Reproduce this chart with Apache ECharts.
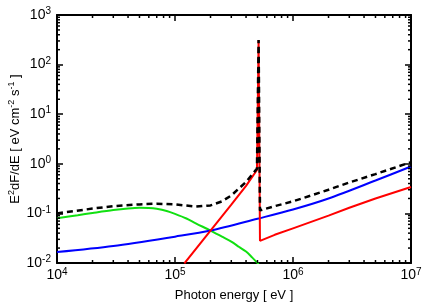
<!DOCTYPE html>
<html><head><meta charset="utf-8">
<script src="https://cdn.jsdelivr.net/npm/echarts@6/dist/echarts.min.js"></script>
<style>html,body{margin:0;padding:0;background:#fff}#c{width:436px;height:305px}</style>
</head><body><div id="c"></div>
<script>
// Photon energy [eV] and E^2 dF/dE values
const greenE = [1e4, 1.5e4, 2e4, 3e4, 4e4, 5e4, 6e4, 7e4, 8.5e4, 1e5, 1.25e5, 1.5e5, 2e5, 2.5e5, 3e5, 3.5e5, 4e5, 4.5e5, 5.11e5];
const greenF = [0.08, 0.092, 0.102, 0.117, 0.126, 0.13, 0.129, 0.124, 0.112, 0.098, 0.079, 0.063, 0.045, 0.034, 0.027, 0.021, 0.017, 0.013, 0.0095];

const blueE = [1e4, 3e4, 1e5, 2e5, 5e5, 1e6, 2e6, 5e6, 1e7];
const blueF = [0.0166, 0.022, 0.034, 0.045, 0.078, 0.12, 0.2, 0.46, 0.88];

const redE = [1.2e5, 2e5, 3e5, 4e5, 4.95e5, 5.11e5, 5.25e5, 7e5, 1e6, 2e6, 3e6, 5e6, 1e7];
const redF = [0.0098, 0.045, 0.15, 0.36, 0.75, 313, 0.028, 0.037, 0.05, 0.09, 0.13, 0.2, 0.34];

const totalE = [1e4, 2e4, 3e4, 5e4, 7e4, 1e5, 1.5e5, 2e5, 2.5e5, 3e5, 4e5, 4.95e5, 5.11e5, 5.25e5, 7e5, 1e6, 2e6, 3e6, 5e6, 1e7];
const totalF = [0.1, 0.125, 0.14, 0.152, 0.157, 0.152, 0.137, 0.145, 0.175, 0.23, 0.43, 0.8, 313, 0.115, 0.14, 0.175, 0.3, 0.42, 0.62, 1.08];

// axis ticks
const xMin = 1e4, xMax = 1e7, yMin = 1e-2, yMax = 1e3;
const xMinorTicks = [];
for (let d = 1e4; d < 1e7; d *= 10) for (let k = 2; k <= 9; k++) xMinorTicks.push(k * d);
const yMinorTicks = [];
for (let d = 1e-2; d < 1e3 * 0.999; d *= 10) for (let k = 2; k <= 9; k++) yMinorTicks.push(k * d);

const FONT = 'Liberation Sans, Arial, sans-serif';
const zip = (a, b) => a.map((v, i) => [v, b[i]]);
const powLabel = v => '{b|10}{s|' + Math.round(Math.log10(v)) + '}';
const labelRich = {
  b: { fontSize: 14, fontFamily: FONT, color: '#000', lineHeight: 17 },
  s: { fontSize: 10, fontFamily: FONT, color: '#000', lineHeight: 10, verticalAlign: 'top' }
};
const axisLine = { show: true, onZero: false, lineStyle: { color: '#000', width: 2 } };
const axisTick = { show: true, inside: true, length: 6, lineStyle: { color: '#000', width: 1.5 } };

function tickLine(x1, y1, x2, y2) {
  return { type: 'line', shape: { x1, y1, x2, y2 }, style: { stroke: '#000', lineWidth: 1.5 } };
}

const chart = echarts.init(document.getElementById('c'), null, { renderer: 'canvas' });
chart.setOption({
  animation: false,
  backgroundColor: '#fff',
  grid: { left: 57, right: 25, top: 15, bottom: 42, containLabel: false, outerBoundsMode: 'none' },
  xAxis: [
    { type: 'log', logBase: 10, min: xMin, max: xMax, splitNumber: 3, position: 'bottom',
      axisLine, axisTick, splitLine: { show: false },
      axisLabel: { formatter: powLabel, rich: labelRich, margin: 4 },
      name: 'Photon energy [ eV ]', nameLocation: 'middle', nameGap: 26, nameMoveOverlap: false,
      nameTextStyle: { fontSize: 13, fontFamily: FONT, color: '#000' } },
    { type: 'log', logBase: 10, min: xMin, max: xMax, splitNumber: 3, position: 'top',
      axisLine, axisTick, splitLine: { show: false }, axisLabel: { show: false } }
  ],
  yAxis: [
    { type: 'log', logBase: 10, min: yMin, max: yMax, splitNumber: 5, position: 'left',
      axisLine, axisTick, splitLine: { show: false },
      axisLabel: { formatter: powLabel, rich: labelRich, margin: 6 },
      name: 'E{s|2}dF/dE [ eV cm{s|-2} s{s|-1} ]', nameLocation: 'middle', nameGap: 34, nameRotate: 90,
      nameMoveOverlap: false,
      nameTextStyle: { fontSize: 13, fontFamily: FONT, color: '#000', lineHeight: 16,
        rich: { s: { fontSize: 9, fontFamily: FONT, color: '#000', lineHeight: 9, verticalAlign: 'top' } } } },
    { type: 'log', logBase: 10, min: yMin, max: yMax, splitNumber: 5, position: 'right',
      axisLine, axisTick, splitLine: { show: false }, axisLabel: { show: false } }
  ],
  series: [
    { type: 'custom', silent: true, xAxisIndex: 0, yAxisIndex: 0, z: 5,
      data: xMinorTicks.map(v => [v, yMin]),
      renderItem: (p, api) => {
        const b = api.coord([api.value(0), yMin]);
        const t = api.coord([api.value(0), yMax]);
        return { type: 'group', children: [tickLine(b[0], b[1], b[0], b[1] - 3), tickLine(t[0], t[1], t[0], t[1] + 3)] };
      } },
    { type: 'custom', silent: true, xAxisIndex: 0, yAxisIndex: 0, z: 5,
      data: yMinorTicks.map(v => [xMin, v]),
      renderItem: (p, api) => {
        const l = api.coord([xMin, api.value(1)]);
        const r = api.coord([xMax, api.value(1)]);
        return { type: 'group', children: [tickLine(l[0], l[1], l[0] + 3, l[1]), tickLine(r[0], r[1], r[0] - 3, r[1])] };
      } },
    { type: 'line', data: zip(greenE, greenF), showSymbol: false, z: 2, smooth: 0.3,
      lineStyle: { color: '#11e011', width: 2 } },
    { type: 'line', data: zip(blueE, blueF), showSymbol: false, z: 2, smooth: 0.3,
      lineStyle: { color: '#0000ff', width: 2 } },
    { type: 'line', data: zip(redE, redF), showSymbol: false, z: 3,
      lineStyle: { color: '#ff0000', width: 2 } },
    { type: 'line', data: zip(totalE, totalF), showSymbol: false, z: 4,
      lineStyle: { color: '#000', width: 2.5, type: [6, 4] } }
  ]
});
</script></body></html>
